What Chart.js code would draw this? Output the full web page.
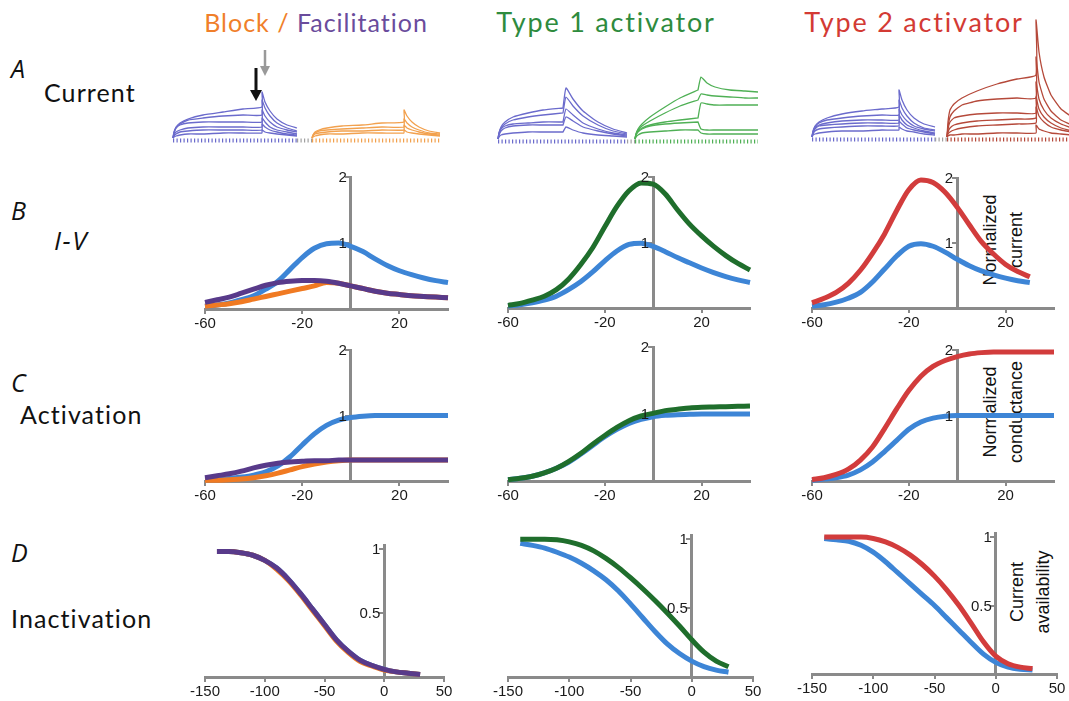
<!DOCTYPE html>
<html><head><meta charset="utf-8">
<script src="https://cdn.jsdelivr.net/npm/chart.js@4"></script>
<style>
body{margin:0;background:#fff;width:1069px;height:701px;overflow:hidden;position:relative;font-family:Lato,"Open Sans",sans-serif;}
canvas{position:absolute;}
.t{position:absolute;white-space:nowrap;line-height:1;color:#111;}
.ttl{font-size:25px;letter-spacing:1px;transform:translateX(-50%);top:10px;}
.ttl2{font-size:27px;letter-spacing:1.8px;transform:translateX(-50%);top:8px;}
.row{font-size:25px;letter-spacing:1.1px;}
.it{font-style:italic;font-family:"Open Sans",Lato,sans-serif;font-size:25px;}
.rot{position:absolute;font-family:"Liberation Sans",Arial,sans-serif;font-size:18px;line-height:26px;text-align:center;color:#111;transform:translate(-50%,-50%) rotate(-90deg);white-space:nowrap;}
svg{position:absolute;left:0;top:0;}
</style></head><body>

<div class="t ttl" style="left:316px"><span style="color:#f07f2a">Block / </span><span style="color:#6a4c9c">Facilitation</span></div>
<div class="t ttl2" style="left:606px;color:#2e8b3e">Type 1 activator</div>
<div class="t ttl2" style="left:914px;color:#d33a34">Type 2 activator</div>

<div class="t it" style="left:11px;top:56px">A</div>
<div class="t row" style="left:44px;top:80px">Current</div>
<div class="t it" style="left:11px;top:198px">B</div>
<div class="t it" style="left:54px;top:227px;letter-spacing:1.5px;font-size:26px">I-V</div>
<div class="t it" style="left:11px;top:370px">C</div>
<div class="t row" style="left:20px;top:402px">Activation</div>
<div class="t it" style="left:11px;top:540px">D</div>
<div class="t row" style="left:11px;top:606px">Inactivation</div>

<div class="rot" style="left:1003px;top:240px">Normalized<br>current</div>
<div class="rot" style="left:1003px;top:412px">Normalized<br>conductance</div>
<div class="rot" style="left:1030px;top:592px">Current<br>availability</div>

<svg width="1069" height="701">
  <line x1="256" y1="68" x2="256" y2="92" stroke="#111" stroke-width="3"/>
  <polygon points="250,90 262,90 256,101" fill="#111"/>
  <line x1="265" y1="50" x2="265" y2="68" stroke="#999" stroke-width="2.5"/>
  <polygon points="260,66 270,66 265,76" fill="#999"/>
</svg>

<script>
// ---------- DATA ----------
// Row B (I-V) and row C (activation): membrane potential, mV
const mvIV = [-60,-55,-50,-45,-40,-35,-30,-25,-20,-15,-10,-5,0,5,10,15,20,25,30,35,40];
const mvIV3 = [-60,-55,-50,-45,-40,-35,-30,-25,-20,-15,-10,-5,0,5,10,15,20,25,30];
// Row D (inactivation): prepulse potential, mV
const mvInact = [-140,-130,-120,-110,-100,-90,-80,-70,-60,-50,-40,-30,-20,-10,0,10,20,30];

// Normalized current (I-V)
const ivControl1 = [0.04,0.06,0.09,0.14,0.2,0.3,0.42,0.6,0.78,0.92,0.99,1.0,0.95,0.87,0.76,0.66,0.58,0.52,0.47,0.43,0.40];
const ivBlock    = [0.04,0.06,0.08,0.11,0.15,0.19,0.23,0.27,0.31,0.35,0.40,0.39,0.35,0.31,0.27,0.24,0.22,0.2,0.19,0.18,0.17];
const ivFacil    = [0.1,0.14,0.18,0.24,0.3,0.36,0.4,0.42,0.43,0.43,0.42,0.39,0.35,0.31,0.27,0.24,0.22,0.2,0.19,0.18,0.17];
const ivControl2 = [0.03,0.05,0.08,0.12,0.18,0.28,0.4,0.55,0.72,0.87,0.97,0.99,0.94,0.86,0.77,0.69,0.61,0.54,0.48,0.43,0.39];
const ivType1    = [0.04,0.07,0.12,0.18,0.28,0.44,0.66,0.92,1.24,1.55,1.79,1.91,1.89,1.74,1.5,1.28,1.1,0.94,0.8,0.68,0.58];
const ivControl3 = [0.03,0.05,0.09,0.15,0.24,0.4,0.6,0.8,0.95,0.99,0.95,0.86,0.75,0.65,0.57,0.51,0.46,0.42,0.39];
const ivType2    = [0.08,0.15,0.24,0.38,0.58,0.84,1.14,1.5,1.82,1.97,1.93,1.78,1.55,1.28,1.02,0.83,0.67,0.56,0.48];

// Normalized conductance (activation)
const gvControl1 = [0.02,0.03,0.04,0.06,0.09,0.14,0.23,0.37,0.55,0.72,0.85,0.93,0.97,0.99,1,1,1,1,1,1,1];
const gvBlock    = [0.01,0.01,0.02,0.03,0.05,0.08,0.12,0.17,0.22,0.26,0.29,0.31,0.32,0.32,0.32,0.32,0.32,0.32,0.32,0.32,0.32];
const gvFacil    = [0.05,0.08,0.11,0.15,0.2,0.24,0.27,0.29,0.3,0.31,0.31,0.32,0.32,0.32,0.32,0.32,0.32,0.32,0.32,0.32,0.32];
const gvControl2 = [0.02,0.04,0.07,0.12,0.19,0.28,0.4,0.53,0.66,0.77,0.86,0.92,0.96,0.98,0.99,0.995,1,1,1,1,1];
const gvType1    = [0.02,0.04,0.07,0.12,0.19,0.29,0.41,0.55,0.68,0.8,0.9,0.97,1.01,1.05,1.07,1.09,1.1,1.105,1.11,1.115,1.12];
const gvControl3 = [0.01,0.03,0.05,0.09,0.17,0.29,0.45,0.62,0.79,0.9,0.96,0.99,1,1,1,1,1,1,1,1,1];
const gvType2    = [0.02,0.05,0.1,0.18,0.32,0.52,0.8,1.1,1.38,1.6,1.75,1.84,1.9,1.94,1.96,1.97,1.97,1.97,1.97,1.97,1.97];

// Current availability (inactivation)
const avControl1 = [0.98,0.98,0.97,0.95,0.91,0.85,0.76,0.65,0.53,0.41,0.29,0.2,0.13,0.09,0.06,0.04,0.03,0.02];
const avBlock    = [0.98,0.98,0.97,0.95,0.91,0.84,0.75,0.64,0.52,0.40,0.28,0.19,0.12,0.085,0.055,0.04,0.03,0.02];
const avFacil    = [0.98,0.98,0.97,0.95,0.91,0.85,0.76,0.65,0.53,0.41,0.29,0.2,0.13,0.09,0.06,0.04,0.03,0.02];
const avControl2 = [0.97,0.955,0.935,0.905,0.87,0.825,0.77,0.705,0.625,0.53,0.43,0.33,0.24,0.17,0.115,0.075,0.05,0.035];
const avType1    = [1.0,1.0,1.0,0.995,0.98,0.955,0.915,0.86,0.795,0.72,0.64,0.555,0.465,0.37,0.27,0.18,0.115,0.075];
const avControl3 = [0.99,0.98,0.97,0.94,0.89,0.82,0.74,0.66,0.58,0.5,0.41,0.32,0.23,0.145,0.085,0.05,0.035,0.03];
const avType2    = [1.0,1.0,1.0,1.0,0.99,0.965,0.925,0.87,0.8,0.715,0.615,0.5,0.37,0.235,0.13,0.075,0.05,0.04];

// Tick labels
const ivTicksX = [-60,-20,20];
const ivTicksY = [1,2];
const inTicksX = [-150,-100,-50,0,50];
const inTicksY = [0.5,1];

// Row A: current traces (time in ms from pulse onset, current in arbitrary units)
const tBlock1 = [0,1,3,7,15,30,50,70,89,89,92,97,104,114,124];
const ctl1Traces = [
  [0,6,11,15,19,23,26,29,31,46,36,27,19,13,10],
  [0,5,10,14,18,20,22,23,23,38,30,22,15,10,7],
  [0,5,10,13,15,16,16,16,16,28,22,16,11,8,6],
  [0,3,6,8,10,11,11,11,11,20,16,11,8,6,4],
  [0,2,4,6,7,8,8,8,8,14,11,8,6,4,3],
  [0,1,2,3,4,4,5,5,5,8,6,5,4,3,2]];
const tBlock2 = [0,1,3,7,15,30,50,70,92,92,95,100,107,117,128];
const blockTraces = [
  [0,3,6,8,10,12,13,15,16,28,22,16,11,7,5],
  [0,3,5,7,8,9,10,11,11,19,15,11,8,5,4],
  [0,2,4,5,6,7,7,8,8,13,10,8,6,4,3],
  [0,1,2,3,4,4,5,5,5,8,6,5,4,3,2]];
const tCtl2 = [0,1,3,7,15,30,45,65,65,68,75,85,100,115,129];
const ctl2Traces = [
  [0,6,12,17,22,26,29,31,31,51,40,28,17,10,6],
  [0,6,11,15,19,22,24,26,26,42,33,23,14,8,5],
  [0,5,10,13,15,16,17,17,17,30,24,16,10,6,4],
  [0,4,8,11,13,14,14,14,14,22,18,12,8,5,3],
  [0,2,4,5,6,7,7,7,7,12,9,6,4,3,2]];
const tType1 = [0,1,3,7,15,30,45,63,63,66,72,80,95,110,123];
const type1Traces = [
  [0,5,10,15,22,32,41,49,49,62,56,52,49,48,47],
  [0,5,9,13,18,26,33,39,39,45,44,43,42,41,41],
  [0,4,8,11,14,17,19,21,21,36,35,34,34,34,34],
  [0,4,7,10,13,15,16,17,17,10,9,9,9,9,9],
  [0,2,4,6,7,8,9,9,9,6,5,5,5,5,5]];
const tCtl3 = [0,1,3,7,15,30,50,70,87,87,90,95,102,112,123];
const ctl3Traces = [
  [0,6,11,15,19,23,26,28,30,47,37,27,19,13,10],
  [0,5,10,14,17,19,21,22,22,37,29,21,14,9,7],
  [0,5,9,12,14,16,17,17,17,28,22,16,11,8,6],
  [0,4,8,11,12,13,14,14,14,22,17,12,9,6,4],
  [0,3,6,8,9,10,11,11,11,16,13,9,7,5,3],
  [0,2,3,4,5,6,6,7,7,10,8,6,5,3,2]];
const tType2 = [0,1,3,7,15,30,50,70,89,89,92,97,104,114,125];
const type2Traces = [
  [0,15,27,33,39,46,53,58,62,117,85,60,42,28,20],
  [0,10,20,26,32,36,38,39,39,80,55,38,26,17,12],
  [0,8,15,19,21,23,24,24,24,55,38,27,19,13,9],
  [0,5,9,12,14,16,17,18,19,40,28,20,14,9,6],
  [0,3,5,7,9,11,12,13,14,30,21,15,10,7,5],
  [0,1,2,2,3,3,4,4,4,12,8,6,4,3,2]];

// ---------- COLOURS ----------
const BLUE='#3d85d6', ORANGE='#f07a22', PURPLE='#583a8a', GREEN='#1f6e2c', RED='#d23c3c';
const TBLUE='#6b6bcc', TORANGE='#f2a14e', TGREEN='#4fb055', TRED='#b5493a';

// ---------- HELPERS ----------
function mk(left, top, w, h){
  const c=document.createElement('canvas');
  c.width=w;c.height=h;c.style.left=left+'px';c.style.top=top+'px';c.style.width=w+'px';c.style.height=h+'px';
  document.body.appendChild(c);return c;
}
function curve(xs, ys, color, order){
  return {data: xs.map((x,i)=>({x:x,y:ys[i]})), borderColor:color, borderWidth:5, order:order,
          pointRadius:0, fill:false, cubicInterpolationMode:'monotone', clip:false};
}
// draws the y tick labels just left of the axis that crosses at x = 0
const yLabelPlugin = {
  id:'yLabels',
  afterDatasetsDraw(chart, args, opts){
    const ctx=chart.ctx, xs=chart.scales.x, ys=chart.scales.y;
    const x0=xs.getPixelForValue(0);
    ctx.save();
    ctx.font='15px "Liberation Sans", Arial, sans-serif';
    ctx.fillStyle='#1a1a1a';ctx.textAlign='right';ctx.textBaseline='middle';
    opts.values.forEach(v=>ctx.fillText(String(v), x0-4, ys.getPixelForValue(v)+1));
    ctx.restore();
  }
};
function panel(box, xr, xt, ymax, yt, sets){
  const padL=30,padR=22,padT=14,axH=30;
  const yTop = box.y0 - ymax*box.ppu;
  const w = box.x1-box.x0+padL+padR, h = Math.round(box.y0-yTop)+padT+axH;
  const c = mk(box.x0-padL, Math.round(yTop)-padT, w, h);
  const tickFont={family:'"Liberation Sans", Arial, sans-serif', size:15};
  new Chart(c,{type:'line',data:{datasets:sets},plugins:[yLabelPlugin],options:{
    responsive:false,animation:false,events:[],
    layout:{padding:{left:padL,right:padR,top:padT,bottom:0}},
    plugins:{legend:{display:false},tooltip:{enabled:false},yLabels:{values:yt}},
    scales:{
      x:{type:'linear',min:xr[0],max:xr[1],
        afterBuildTicks:s=>{s.ticks=xt.map(v=>({value:v}));},
        afterFit:s=>{s.height=axH;},
        grid:{drawOnChartArea:false,color:'#8a8a8a',lineWidth:2,tickLength:5},
        border:{color:'#8a8a8a',width:3},
        ticks:{color:'#1a1a1a',font:tickFont,padding:1,maxRotation:0,autoSkip:false}},
      y:{type:'linear',min:0,max:ymax,position:{x:0},
        afterBuildTicks:s=>{s.ticks=yt.map(v=>({value:v}));},
        grid:{drawOnChartArea:false,color:'#8a8a8a',lineWidth:2,tickLength:4},
        border:{color:'#8a8a8a',width:3},
        ticks:{display:false}}
    }}});
}
function traces(times, onset, list, color){
  return list.map(vals=>({data:times.map((t,i)=>({x:onset+t,y:vals[i]})),borderColor:color,borderWidth:1.3,
    pointRadius:0,fill:false,tension:0.15,clip:false}));
}
function ruler(times, onset, color){
  return {data:[{x:onset,y:-2.5},{x:onset+times[times.length-1],y:-2.5}],borderColor:color,borderWidth:4,
    borderDash:[1.2,2.3],pointRadius:0,fill:false,clip:false};
}
function tracePanel(left, width, baseline, groups){
  const top=8,bottom=162;
  const c = mk(left, top, width, bottom-top);
  let sets=[];
  groups.forEach(g=>{ sets=sets.concat(traces(g.t,g.on,g.tr,g.col)); sets.push(ruler(g.t,g.on,g.col)); });
  const g0=groups[0], g1=groups[1];
  sets.push({data:[{x:g0.on+g0.t[g0.t.length-1],y:-2.5},{x:g1.on,y:-2.5}],borderColor:'#a0a0a0',borderWidth:4,borderDash:[1.2,2.3],pointRadius:0,clip:false});
  new Chart(c,{type:'line',data:{datasets:sets},options:{
    responsive:false,animation:false,events:[],
    layout:{padding:0},
    plugins:{legend:{display:false},tooltip:{enabled:false}},
    scales:{x:{type:'linear',display:false,min:0,max:width},
            y:{type:'linear',display:false,min:baseline-bottom,max:baseline-top}}}});
}

// ---------- ROW A ----------
tracePanel(160,300,138,[
  {t:tBlock1,on:13,tr:ctl1Traces,col:TBLUE},
  {t:tBlock2,on:152,tr:blockTraces,col:TORANGE}]);
tracePanel(480,300,139,[
  {t:tCtl2,on:18,tr:ctl2Traces,col:TBLUE},
  {t:tType1,on:155,tr:type1Traces,col:TGREEN}]);
tracePanel(790,279,137,[
  {t:tCtl3,on:22,tr:ctl3Traces,col:TBLUE},
  {t:tType2,on:157,tr:type2Traces,col:TRED}]);

// ---------- ROW B ----------
panel({x0:205,x1:448,y0:309,ppu:66},[-60,40],ivTicksX,2,ivTicksY,[
  curve(mvIV,ivFacil,PURPLE,0),curve(mvIV,ivBlock,ORANGE,1),curve(mvIV,ivControl1,BLUE,2)]);
panel({x0:508,x1:750,y0:308,ppu:65.5},[-60,40],ivTicksX,2,ivTicksY,[
  curve(mvIV,ivType1,GREEN,0),curve(mvIV,ivControl2,BLUE,1)]);
panel({x0:812,x1:1054,y0:308,ppu:65},[-60,40],ivTicksX,2,ivTicksY,[
  curve(mvIV3,ivType2,RED,0),curve(mvIV3,ivControl3,BLUE,1)]);

// ---------- ROW C ----------
panel({x0:205,x1:448,y0:481,ppu:65.5},[-60,40],ivTicksX,2,ivTicksY,[
  curve(mvIV,gvFacil,PURPLE,0),curve(mvIV,gvBlock,ORANGE,1),curve(mvIV,gvControl1,BLUE,2)]);
panel({x0:508,x1:750,y0:481,ppu:67},[-60,40],ivTicksX,2,ivTicksY,[
  curve(mvIV,gvType1,GREEN,0),curve(mvIV,gvControl2,BLUE,1)]);
panel({x0:812,x1:1054,y0:481,ppu:65.5},[-60,40],ivTicksX,2,ivTicksY,[
  curve(mvIV,gvType2,RED,0),curve(mvIV,gvControl3,BLUE,1)]);

// ---------- ROW D ----------
panel({x0:205,x1:444,y0:677,ppu:128},[-150,50],inTicksX,1.03,inTicksY,[
  curve(mvInact,avFacil,PURPLE,0),curve(mvInact,avBlock,ORANGE,1),curve(mvInact,avControl1,BLUE,2)]);
panel({x0:508,x1:753,y0:677,ppu:138},[-150,50],inTicksX,1.03,inTicksY,[
  curve(mvInact,avType1,GREEN,0),curve(mvInact,avControl2,BLUE,1)]);
panel({x0:812,x1:1057,y0:674,ppu:137},[-150,50],inTicksX,1.03,inTicksY,[
  curve(mvInact,avType2,RED,0),curve(mvInact,avControl3,BLUE,1)]);
</script>
</body></html>
